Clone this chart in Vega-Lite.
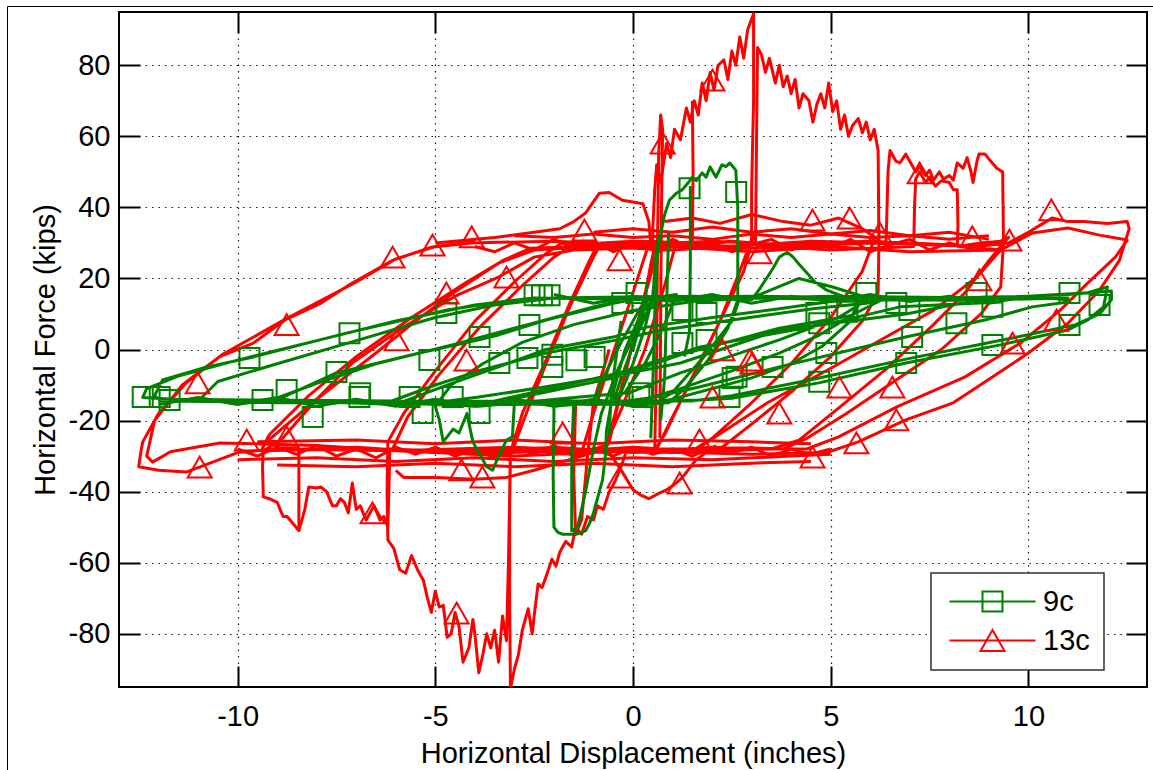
{
  "$schema": "https://vega.github.io/schema/vega-lite/v6.json",
  "width": 1028,
  "height": 675,
  "autosize": {"type": "none"},
  "padding": {"left": 119, "top": 12, "right": 6, "bottom": 83},
  "background": "white",
  "config": {
    "font": "Liberation Sans",
    "view": {"stroke": "#000000", "strokeWidth": 2},
    "axis": {"labelFont": "Liberation Sans", "titleFont": "Liberation Sans", "labelColor": "#000000", "titleColor": "#000000", "titleFontWeight": "normal"}
  },
  "datasets": {
    "curves": [
      {"s":"13c","g":1,"i":1,"x":0,"y":0},{"s":"13c","g":1,"i":2,"x":0.25,"y":12},{"s":"13c","g":1,"i":3,"x":0.45,"y":24},{"s":"13c","g":1,"i":4,"x":0.55,"y":29},{"s":"13c","g":1,"i":5,"x":0.35,"y":18},{"s":"13c","g":1,"i":6,"x":0,"y":2},{"s":"13c","g":1,"i":7,"x":-0.35,"y":-14},{"s":"13c","g":1,"i":8,"x":-0.6,"y":-26},{"s":"13c","g":1,"i":9,"x":-0.7,"y":-28},{"s":"13c","g":1,"i":10,"x":-0.45,"y":-18},
      {"s":"13c","g":1,"i":11,"x":-0.1,"y":-2},{"s":"13c","g":1,"i":12,"x":0.3,"y":15},{"s":"13c","g":1,"i":13,"x":0.6,"y":27},{"s":"13c","g":1,"i":14,"x":0.9,"y":30},{"s":"13c","g":1,"i":15,"x":1.1,"y":30.5},{"s":"13c","g":1,"i":16,"x":0.8,"y":18},{"s":"13c","g":1,"i":17,"x":0.3,"y":0},{"s":"13c","g":1,"i":18,"x":-0.3,"y":-17},{"s":"13c","g":1,"i":19,"x":-0.7,"y":-27},{"s":"13c","g":1,"i":20,"x":-1.1,"y":-28.5},
      {"s":"13c","g":1,"i":21,"x":-1.3,"y":-29},{"s":"13c","g":1,"i":22,"x":-1,"y":-18},{"s":"13c","g":1,"i":23,"x":-0.5,"y":-1},{"s":"13c","g":1,"i":24,"x":0,"y":16},{"s":"13c","g":1,"i":25,"x":0.35,"y":28},{"s":"13c","g":1,"i":26,"x":0.5,"y":31},{"s":"13c","g":1,"i":27,"x":0.5,"y":34},{"s":"13c","g":1,"i":28,"x":0.55,"y":45},{"s":"13c","g":1,"i":29,"x":0.6,"y":52},{"s":"13c","g":1,"i":30,"x":0.7,"y":47},
      {"s":"13c","g":1,"i":31,"x":0.85,"y":58},{"s":"13c","g":1,"i":32,"x":0.95,"y":54},{"s":"13c","g":1,"i":33,"x":1.05,"y":62},{"s":"13c","g":1,"i":34,"x":1.2,"y":59},{"s":"13c","g":1,"i":35,"x":1.35,"y":68},{"s":"13c","g":1,"i":36,"x":1.45,"y":64},{"s":"13c","g":1,"i":37,"x":1.55,"y":70},{"s":"13c","g":1,"i":38,"x":1.65,"y":66},{"s":"13c","g":1,"i":39,"x":1.75,"y":75},{"s":"13c","g":1,"i":40,"x":1.85,"y":70},
      {"s":"13c","g":1,"i":41,"x":1.95,"y":78},{"s":"13c","g":1,"i":42,"x":2.05,"y":73},{"s":"13c","g":1,"i":43,"x":2.15,"y":80},{"s":"13c","g":1,"i":44,"x":2.3,"y":81.5},{"s":"13c","g":1,"i":45,"x":2.4,"y":76},{"s":"13c","g":1,"i":46,"x":2.5,"y":84},{"s":"13c","g":1,"i":47,"x":2.6,"y":80},{"s":"13c","g":1,"i":48,"x":2.7,"y":88},{"s":"13c","g":1,"i":49,"x":2.8,"y":82},{"s":"13c","g":1,"i":50,"x":2.9,"y":90},
      {"s":"13c","g":1,"i":51,"x":3.05,"y":94.5},{"s":"13c","g":1,"i":52,"x":3.05,"y":70},{"s":"13c","g":1,"i":53,"x":3,"y":45},{"s":"13c","g":1,"i":54,"x":3,"y":31},{"s":"13c","g":1,"i":55,"x":2.7,"y":22},{"s":"13c","g":1,"i":56,"x":2.2,"y":8},{"s":"13c","g":1,"i":57,"x":1.6,"y":-6},{"s":"13c","g":1,"i":58,"x":1,"y":-19},{"s":"13c","g":1,"i":59,"x":0.6,"y":-28},{"s":"13c","g":1,"i":60,"x":0.2,"y":-28.5},
      {"s":"13c","g":1,"i":61,"x":-0.15,"y":-28},{"s":"13c","g":1,"i":62,"x":-0.3,"y":-33},{"s":"13c","g":1,"i":63,"x":-0.45,"y":-37},{"s":"13c","g":1,"i":64,"x":-0.6,"y":-40},{"s":"13c","g":1,"i":65,"x":-0.75,"y":-45},{"s":"13c","g":1,"i":66,"x":-0.9,"y":-44},{"s":"13c","g":1,"i":67,"x":-1,"y":-48},{"s":"13c","g":1,"i":68,"x":-1.15,"y":-47},{"s":"13c","g":1,"i":69,"x":-1.3,"y":-52},{"s":"13c","g":1,"i":70,"x":-1.45,"y":-50},
      {"s":"13c","g":1,"i":71,"x":-1.55,"y":-55.6},{"s":"13c","g":1,"i":72,"x":-1.7,"y":-54},{"s":"13c","g":1,"i":73,"x":-1.85,"y":-57},{"s":"13c","g":1,"i":74,"x":-1.95,"y":-61},{"s":"13c","g":1,"i":75,"x":-2.05,"y":-59},{"s":"13c","g":1,"i":76,"x":-2.2,"y":-64},{"s":"13c","g":1,"i":77,"x":-2.3,"y":-67},{"s":"13c","g":1,"i":78,"x":-2.4,"y":-66},{"s":"13c","g":1,"i":79,"x":-2.5,"y":-75},{"s":"13c","g":1,"i":80,"x":-2.55,"y":-80},
      {"s":"13c","g":1,"i":81,"x":-2.65,"y":-73},{"s":"13c","g":1,"i":82,"x":-2.8,"y":-79},{"s":"13c","g":1,"i":83,"x":-2.9,"y":-86},{"s":"13c","g":1,"i":84,"x":-3,"y":-90},{"s":"13c","g":1,"i":85,"x":-3.1,"y":-95.5},{"s":"13c","g":1,"i":86,"x":-3.12,"y":-70},{"s":"13c","g":1,"i":87,"x":-3.12,"y":-45},{"s":"13c","g":1,"i":88,"x":-3.1,"y":-30},{"s":"13c","g":1,"i":89,"x":-2.7,"y":-18},{"s":"13c","g":1,"i":90,"x":-2.2,"y":-4},
      {"s":"13c","g":1,"i":91,"x":-1.6,"y":12},{"s":"13c","g":1,"i":92,"x":-1,"y":26},{"s":"13c","g":1,"i":93,"x":-0.8,"y":30},{"s":"13c","g":1,"i":94,"x":0,"y":30.5},{"s":"13c","g":1,"i":95,"x":1,"y":29.5},{"s":"13c","g":1,"i":96,"x":2,"y":30.5},{"s":"13c","g":1,"i":97,"x":3,"y":30},{"s":"13c","g":1,"i":98,"x":3.05,"y":32},{"s":"13c","g":1,"i":99,"x":2.8,"y":22},{"s":"13c","g":1,"i":100,"x":2.2,"y":8},
      {"s":"13c","g":1,"i":101,"x":1.4,"y":-10},{"s":"13c","g":1,"i":102,"x":0.8,"y":-24},{"s":"13c","g":1,"i":103,"x":0.5,"y":-29},{"s":"13c","g":1,"i":104,"x":-0.5,"y":-28},{"s":"13c","g":1,"i":105,"x":-1.5,"y":-29.5},{"s":"13c","g":1,"i":106,"x":-2.5,"y":-28},{"s":"13c","g":1,"i":107,"x":-3.1,"y":-29},{"s":"13c","g":1,"i":108,"x":-2.8,"y":-18},{"s":"13c","g":1,"i":109,"x":-2.2,"y":-3},{"s":"13c","g":1,"i":110,"x":-1.6,"y":13},
      {"s":"13c","g":1,"i":111,"x":-1.1,"y":25},{"s":"13c","g":1,"i":112,"x":-0.9,"y":29.5},{"s":"13c","g":1,"i":113,"x":0.5,"y":30},{"s":"13c","g":1,"i":114,"x":1.5,"y":29},{"s":"13c","g":1,"i":115,"x":2.5,"y":30.5},{"s":"13c","g":1,"i":116,"x":3.1,"y":30},{"s":"13c","g":1,"i":117,"x":3.12,"y":55},{"s":"13c","g":1,"i":118,"x":3.15,"y":85},{"s":"13c","g":1,"i":119,"x":3.25,"y":83},{"s":"13c","g":1,"i":120,"x":3.35,"y":78},
      {"s":"13c","g":1,"i":121,"x":3.45,"y":82},{"s":"13c","g":1,"i":122,"x":3.6,"y":75},{"s":"13c","g":1,"i":123,"x":3.7,"y":80},{"s":"13c","g":1,"i":124,"x":3.8,"y":74},{"s":"13c","g":1,"i":125,"x":3.9,"y":77},{"s":"13c","g":1,"i":126,"x":4,"y":72},{"s":"13c","g":1,"i":127,"x":4.1,"y":76},{"s":"13c","g":1,"i":128,"x":4.2,"y":68},{"s":"13c","g":1,"i":129,"x":4.3,"y":72},{"s":"13c","g":1,"i":130,"x":4.45,"y":70},
      {"s":"13c","g":1,"i":131,"x":4.55,"y":64},{"s":"13c","g":1,"i":132,"x":4.65,"y":69},{"s":"13c","g":1,"i":133,"x":4.75,"y":72},{"s":"13c","g":1,"i":134,"x":4.85,"y":68},{"s":"13c","g":1,"i":135,"x":4.95,"y":75},{"s":"13c","g":1,"i":136,"x":5.05,"y":67},{"s":"13c","g":1,"i":137,"x":5.15,"y":70},{"s":"13c","g":1,"i":138,"x":5.25,"y":62},{"s":"13c","g":1,"i":139,"x":5.35,"y":66},{"s":"13c","g":1,"i":140,"x":5.45,"y":60},
      {"s":"13c","g":1,"i":141,"x":5.55,"y":63},{"s":"13c","g":1,"i":142,"x":5.7,"y":65},{"s":"13c","g":1,"i":143,"x":5.8,"y":61},{"s":"13c","g":1,"i":144,"x":5.9,"y":64},{"s":"13c","g":1,"i":145,"x":6,"y":59},{"s":"13c","g":1,"i":146,"x":6.1,"y":62},{"s":"13c","g":1,"i":147,"x":6.2,"y":56},{"s":"13c","g":1,"i":148,"x":6.22,"y":30},{"s":"13c","g":1,"i":149,"x":6.2,"y":16},{"s":"13c","g":1,"i":150,"x":5.8,"y":8},
      {"s":"13c","g":1,"i":151,"x":5,"y":-2},{"s":"13c","g":1,"i":152,"x":4,"y":-12},{"s":"13c","g":1,"i":153,"x":3,"y":-21},{"s":"13c","g":1,"i":154,"x":2.2,"y":-28},{"s":"13c","g":1,"i":155,"x":0.5,"y":-28},{"s":"13c","g":1,"i":156,"x":-1,"y":-29},{"s":"13c","g":1,"i":157,"x":-2,"y":-27.5},{"s":"13c","g":1,"i":158,"x":-3.1,"y":-28.5},{"s":"13c","g":1,"i":159,"x":-3.15,"y":-60},{"s":"13c","g":1,"i":160,"x":-3.2,"y":-82},
      {"s":"13c","g":1,"i":161,"x":-3.3,"y":-75},{"s":"13c","g":1,"i":162,"x":-3.4,"y":-88},{"s":"13c","g":1,"i":163,"x":-3.5,"y":-79},{"s":"13c","g":1,"i":164,"x":-3.6,"y":-84},{"s":"13c","g":1,"i":165,"x":-3.7,"y":-80},{"s":"13c","g":1,"i":166,"x":-3.8,"y":-86},{"s":"13c","g":1,"i":167,"x":-3.9,"y":-91},{"s":"13c","g":1,"i":168,"x":-4,"y":-80},{"s":"13c","g":1,"i":169,"x":-4.05,"y":-76},{"s":"13c","g":1,"i":170,"x":-4.15,"y":-84},
      {"s":"13c","g":1,"i":171,"x":-4.3,"y":-88},{"s":"13c","g":1,"i":172,"x":-4.4,"y":-78},{"s":"13c","g":1,"i":173,"x":-4.5,"y":-74},{"s":"13c","g":1,"i":174,"x":-4.6,"y":-80},{"s":"13c","g":1,"i":175,"x":-4.7,"y":-81},{"s":"13c","g":1,"i":176,"x":-4.8,"y":-72},{"s":"13c","g":1,"i":177,"x":-4.9,"y":-72.5},{"s":"13c","g":1,"i":178,"x":-5,"y":-68},{"s":"13c","g":1,"i":179,"x":-5.1,"y":-74},{"s":"13c","g":1,"i":180,"x":-5.2,"y":-70},
      {"s":"13c","g":1,"i":181,"x":-5.3,"y":-65},{"s":"13c","g":1,"i":182,"x":-5.45,"y":-62},{"s":"13c","g":1,"i":183,"x":-5.6,"y":-58},{"s":"13c","g":1,"i":184,"x":-5.75,"y":-63},{"s":"13c","g":1,"i":185,"x":-5.9,"y":-62},{"s":"13c","g":1,"i":186,"x":-6.05,"y":-56},{"s":"13c","g":1,"i":187,"x":-6.2,"y":-53.6},{"s":"13c","g":1,"i":188,"x":-6.22,"y":-40},{"s":"13c","g":1,"i":189,"x":-6.2,"y":-26},{"s":"13c","g":1,"i":190,"x":-5.8,"y":-18},
      {"s":"13c","g":1,"i":191,"x":-5,"y":-6},{"s":"13c","g":1,"i":192,"x":-4,"y":8},{"s":"13c","g":1,"i":193,"x":-3,"y":19},{"s":"13c","g":1,"i":194,"x":-2.2,"y":27},{"s":"13c","g":1,"i":195,"x":-1.8,"y":30},{"s":"13c","g":1,"i":196,"x":0,"y":29},{"s":"13c","g":1,"i":197,"x":2,"y":30.5},{"s":"13c","g":1,"i":198,"x":4,"y":29.5},{"s":"13c","g":1,"i":199,"x":6,"y":30},{"s":"13c","g":1,"i":200,"x":6.1,"y":31},
      {"s":"13c","g":1,"i":201,"x":5.8,"y":22},{"s":"13c","g":1,"i":202,"x":5,"y":9},{"s":"13c","g":1,"i":203,"x":4,"y":-4},{"s":"13c","g":1,"i":204,"x":3,"y":-15},{"s":"13c","g":1,"i":205,"x":2,"y":-25},{"s":"13c","g":1,"i":206,"x":1.5,"y":-28.5},{"s":"13c","g":1,"i":207,"x":0,"y":-27.5},{"s":"13c","g":1,"i":208,"x":-2,"y":-29},{"s":"13c","g":1,"i":209,"x":-4,"y":-28},{"s":"13c","g":1,"i":210,"x":-6.1,"y":-28.5},
      {"s":"13c","g":1,"i":211,"x":-5.7,"y":-19},{"s":"13c","g":1,"i":212,"x":-4.9,"y":-7},{"s":"13c","g":1,"i":213,"x":-3.9,"y":6},{"s":"13c","g":1,"i":214,"x":-2.8,"y":18},{"s":"13c","g":1,"i":215,"x":-2,"y":26},{"s":"13c","g":1,"i":216,"x":-1.5,"y":29.5},{"s":"13c","g":1,"i":217,"x":0.5,"y":30.5},{"s":"13c","g":1,"i":218,"x":2.5,"y":29},{"s":"13c","g":1,"i":219,"x":4.5,"y":30.5},{"s":"13c","g":1,"i":220,"x":6.4,"y":30},
      {"s":"13c","g":1,"i":221,"x":6.45,"y":50},{"s":"13c","g":1,"i":222,"x":6.5,"y":56},{"s":"13c","g":1,"i":223,"x":6.65,"y":53},{"s":"13c","g":1,"i":224,"x":6.75,"y":52.5},{"s":"13c","g":1,"i":225,"x":6.9,"y":55},{"s":"13c","g":1,"i":226,"x":7,"y":53},{"s":"13c","g":1,"i":227,"x":7.15,"y":50},{"s":"13c","g":1,"i":228,"x":7.25,"y":51.5},{"s":"13c","g":1,"i":229,"x":7.4,"y":49},{"s":"13c","g":1,"i":230,"x":7.5,"y":50.5},
      {"s":"13c","g":1,"i":231,"x":7.6,"y":47.7},{"s":"13c","g":1,"i":232,"x":7.75,"y":50},{"s":"13c","g":1,"i":233,"x":7.85,"y":48},{"s":"13c","g":1,"i":234,"x":8,"y":49},{"s":"13c","g":1,"i":235,"x":8.1,"y":47.7},{"s":"13c","g":1,"i":236,"x":8.2,"y":52.5},{"s":"13c","g":1,"i":237,"x":8.35,"y":51},{"s":"13c","g":1,"i":238,"x":8.45,"y":54},{"s":"13c","g":1,"i":239,"x":8.55,"y":50},{"s":"13c","g":1,"i":240,"x":8.6,"y":47},
      {"s":"13c","g":1,"i":241,"x":8.7,"y":53},{"s":"13c","g":1,"i":242,"x":8.75,"y":55},{"s":"13c","g":1,"i":243,"x":8.9,"y":55},{"s":"13c","g":1,"i":244,"x":9.05,"y":53},{"s":"13c","g":1,"i":245,"x":9.2,"y":51},{"s":"13c","g":1,"i":246,"x":9.35,"y":50},{"s":"13c","g":1,"i":247,"x":9.37,"y":30},{"s":"13c","g":1,"i":248,"x":9.3,"y":17.6},{"s":"13c","g":1,"i":249,"x":8.8,"y":10},{"s":"13c","g":1,"i":250,"x":7.8,"y":0},
      {"s":"13c","g":1,"i":251,"x":6.6,"y":-9},{"s":"13c","g":1,"i":252,"x":5.4,"y":-18},{"s":"13c","g":1,"i":253,"x":4.4,"y":-25},{"s":"13c","g":1,"i":254,"x":3.8,"y":-28},{"s":"13c","g":1,"i":255,"x":2,"y":-28},{"s":"13c","g":1,"i":256,"x":0,"y":-29},{"s":"13c","g":1,"i":257,"x":-2,"y":-27.5},{"s":"13c","g":1,"i":258,"x":-4,"y":-29},{"s":"13c","g":1,"i":259,"x":-6.15,"y":-28},{"s":"13c","g":1,"i":260,"x":-6.17,"y":-38},
      {"s":"13c","g":1,"i":261,"x":-6.2,"y":-50},{"s":"13c","g":1,"i":262,"x":-6.3,"y":-47},{"s":"13c","g":1,"i":263,"x":-6.4,"y":-48},{"s":"13c","g":1,"i":264,"x":-6.55,"y":-44},{"s":"13c","g":1,"i":265,"x":-6.6,"y":-45},{"s":"13c","g":1,"i":266,"x":-6.75,"y":-48},{"s":"13c","g":1,"i":267,"x":-6.9,"y":-44},{"s":"13c","g":1,"i":268,"x":-7,"y":-45},{"s":"13c","g":1,"i":269,"x":-7.1,"y":-37.6},{"s":"13c","g":1,"i":270,"x":-7.2,"y":-46},
      {"s":"13c","g":1,"i":271,"x":-7.3,"y":-43},{"s":"13c","g":1,"i":272,"x":-7.4,"y":-42},{"s":"13c","g":1,"i":273,"x":-7.5,"y":-44},{"s":"13c","g":1,"i":274,"x":-7.6,"y":-44},{"s":"13c","g":1,"i":275,"x":-7.75,"y":-40},{"s":"13c","g":1,"i":276,"x":-7.9,"y":-38.7},{"s":"13c","g":1,"i":277,"x":-8,"y":-39},{"s":"13c","g":1,"i":278,"x":-8.2,"y":-38.7},{"s":"13c","g":1,"i":279,"x":-8.3,"y":-45},{"s":"13c","g":1,"i":280,"x":-8.45,"y":-51},
      {"s":"13c","g":1,"i":281,"x":-8.6,"y":-49},{"s":"13c","g":1,"i":282,"x":-8.75,"y":-47},{"s":"13c","g":1,"i":283,"x":-8.85,"y":-47},{"s":"13c","g":1,"i":284,"x":-9,"y":-43},{"s":"13c","g":1,"i":285,"x":-9.2,"y":-42},{"s":"13c","g":1,"i":286,"x":-9.35,"y":-41.5},{"s":"13c","g":1,"i":287,"x":-9.37,"y":-33},{"s":"13c","g":1,"i":288,"x":-9.35,"y":-27},{"s":"13c","g":1,"i":289,"x":-9.3,"y":-26.3},{"s":"13c","g":1,"i":290,"x":-8,"y":-14},
      {"s":"13c","g":1,"i":291,"x":-6.5,"y":-1},{"s":"13c","g":1,"i":292,"x":-5.5,"y":8},{"s":"13c","g":1,"i":293,"x":-4.55,"y":15.9},{"s":"13c","g":1,"i":294,"x":-3.4,"y":24.3},{"s":"13c","g":1,"i":295,"x":-2.5,"y":28},{"s":"13c","g":1,"i":296,"x":-1,"y":29},{"s":"13c","g":1,"i":297,"x":1,"y":28},{"s":"13c","g":1,"i":298,"x":3,"y":29.5},{"s":"13c","g":1,"i":299,"x":5,"y":28},{"s":"13c","g":1,"i":300,"x":7.1,"y":29},
      {"s":"13c","g":1,"i":301,"x":7.12,"y":40},{"s":"13c","g":1,"i":302,"x":7.15,"y":48},{"s":"13c","g":1,"i":303,"x":7.25,"y":50},{"s":"13c","g":1,"i":304,"x":7.4,"y":47},{"s":"13c","g":1,"i":305,"x":7.5,"y":48.5},{"s":"13c","g":1,"i":306,"x":7.65,"y":46},{"s":"13c","g":1,"i":307,"x":7.8,"y":47.5},{"s":"13c","g":1,"i":308,"x":8,"y":47},{"s":"13c","g":1,"i":309,"x":8.1,"y":45},{"s":"13c","g":1,"i":310,"x":8.2,"y":45},
      {"s":"13c","g":1,"i":311,"x":8.22,"y":35},{"s":"13c","g":1,"i":312,"x":8.2,"y":29},{"s":"13c","g":1,"i":313,"x":8.8,"y":30},{"s":"13c","g":1,"i":314,"x":9.3,"y":30.5},{"s":"13c","g":1,"i":315,"x":9.5,"y":31.6},{"s":"13c","g":1,"i":316,"x":9,"y":25},{"s":"13c","g":1,"i":317,"x":8.4,"y":16},{"s":"13c","g":1,"i":318,"x":7.6,"y":7},{"s":"13c","g":1,"i":319,"x":6.4,"y":-5.5},{"s":"13c","g":1,"i":320,"x":5.2,"y":-16.5},
      {"s":"13c","g":1,"i":321,"x":4.2,"y":-25.5},{"s":"13c","g":1,"i":322,"x":3.5,"y":-28},{"s":"13c","g":1,"i":323,"x":1,"y":-29},{"s":"13c","g":1,"i":324,"x":-2,"y":-28},{"s":"13c","g":1,"i":325,"x":-5,"y":-29},{"s":"13c","g":1,"i":326,"x":-7,"y":-27.5},{"s":"13c","g":1,"i":327,"x":-9.35,"y":-28.5},{"s":"13c","g":1,"i":328,"x":-8.9,"y":-25.5},{"s":"13c","g":1,"i":329,"x":-8,"y":-14},{"s":"13c","g":1,"i":330,"x":-7.1,"y":-3.8},
      {"s":"13c","g":1,"i":331,"x":-5.8,"y":6.3},{"s":"13c","g":1,"i":332,"x":-4.5,"y":15},{"s":"13c","g":1,"i":333,"x":-3.4,"y":20.4},{"s":"13c","g":1,"i":334,"x":-2.5,"y":26},{"s":"13c","g":1,"i":335,"x":-1.5,"y":28},{"s":"13c","g":1,"i":336,"x":1,"y":29},{"s":"13c","g":1,"i":337,"x":3,"y":27.5},{"s":"13c","g":1,"i":338,"x":5,"y":29},{"s":"13c","g":1,"i":339,"x":7,"y":27.5},{"s":"13c","g":1,"i":340,"x":9.3,"y":28},
      {"s":"13c","g":1,"i":341,"x":8.7,"y":20.4},{"s":"13c","g":1,"i":342,"x":7.6,"y":11},{"s":"13c","g":1,"i":343,"x":6.4,"y":3.5},{"s":"13c","g":1,"i":344,"x":5.05,"y":-5},{"s":"13c","g":1,"i":345,"x":3.4,"y":-15},{"s":"13c","g":1,"i":346,"x":1.7,"y":-27.4},{"s":"13c","g":1,"i":347,"x":1.3,"y":-29},{"s":"13c","g":1,"i":348,"x":-1,"y":-28},{"s":"13c","g":1,"i":349,"x":-4,"y":-29.5},{"s":"13c","g":1,"i":350,"x":-7,"y":-28},
      {"s":"13c","g":1,"i":351,"x":-9.4,"y":-28.5},{"s":"13c","g":1,"i":352,"x":-9.2,"y":-24},{"s":"13c","g":1,"i":353,"x":-8.2,"y":-13},{"s":"13c","g":1,"i":354,"x":-7,"y":-2},{"s":"13c","g":1,"i":355,"x":-5.6,"y":9},{"s":"13c","g":1,"i":356,"x":-4.2,"y":19},{"s":"13c","g":1,"i":357,"x":-3.3,"y":25},{"s":"13c","g":1,"i":358,"x":-2.6,"y":28.5},{"s":"13c","g":1,"i":359,"x":0,"y":29.5},{"s":"13c","g":1,"i":360,"x":3,"y":28.5},
      {"s":"13c","g":1,"i":361,"x":6,"y":30},{"s":"13c","g":1,"i":362,"x":8.7,"y":29},{"s":"13c","g":1,"i":363,"x":9.5,"y":30},{"s":"13c","g":1,"i":364,"x":10,"y":33},{"s":"13c","g":1,"i":365,"x":10.3,"y":35},{"s":"13c","g":1,"i":366,"x":10.6,"y":37},{"s":"13c","g":1,"i":367,"x":11,"y":36},{"s":"13c","g":1,"i":368,"x":11.4,"y":36},{"s":"13c","g":1,"i":369,"x":12,"y":35.5},{"s":"13c","g":1,"i":370,"x":12.5,"y":36},
      {"s":"13c","g":1,"i":371,"x":12.55,"y":34},{"s":"13c","g":1,"i":372,"x":12.3,"y":25},{"s":"13c","g":1,"i":373,"x":11.8,"y":16.7},{"s":"13c","g":1,"i":374,"x":11,"y":7.4},{"s":"13c","g":1,"i":375,"x":10,"y":-1},{"s":"13c","g":1,"i":376,"x":9.1,"y":-7.7},{"s":"13c","g":1,"i":377,"x":8.1,"y":-15},{"s":"13c","g":1,"i":378,"x":6.9,"y":-19.8},{"s":"13c","g":1,"i":379,"x":5.7,"y":-26},{"s":"13c","g":1,"i":380,"x":4.9,"y":-29},
      {"s":"13c","g":1,"i":381,"x":3,"y":-29.5},{"s":"13c","g":1,"i":382,"x":0,"y":-28.5},{"s":"13c","g":1,"i":383,"x":-3,"y":-30},{"s":"13c","g":1,"i":384,"x":-6,"y":-28.5},{"s":"13c","g":1,"i":385,"x":-9,"y":-28},{"s":"13c","g":1,"i":386,"x":-10,"y":-29},{"s":"13c","g":1,"i":387,"x":-10.7,"y":-32},{"s":"13c","g":1,"i":388,"x":-11.3,"y":-34.5},{"s":"13c","g":1,"i":389,"x":-12,"y":-34},{"s":"13c","g":1,"i":390,"x":-12.5,"y":-33},
      {"s":"13c","g":1,"i":391,"x":-12.45,"y":-29},{"s":"13c","g":1,"i":392,"x":-12.4,"y":-26},{"s":"13c","g":1,"i":393,"x":-12,"y":-18},{"s":"13c","g":1,"i":394,"x":-11.3,"y":-9.4},{"s":"13c","g":1,"i":395,"x":-10.45,"y":-2},{"s":"13c","g":1,"i":396,"x":-9.6,"y":1.8},{"s":"13c","g":1,"i":397,"x":-8.8,"y":8.3},{"s":"13c","g":1,"i":398,"x":-7.9,"y":13},{"s":"13c","g":1,"i":399,"x":-7.1,"y":18.7},{"s":"13c","g":1,"i":400,"x":-6.1,"y":25},
      {"s":"13c","g":1,"i":401,"x":-5.1,"y":28.8},{"s":"13c","g":1,"i":402,"x":-4.1,"y":30},{"s":"13c","g":1,"i":403,"x":-2,"y":30.5},{"s":"13c","g":1,"i":404,"x":0,"y":29.5},{"s":"13c","g":1,"i":405,"x":2,"y":30.5},{"s":"13c","g":1,"i":406,"x":4,"y":29.5},{"s":"13c","g":1,"i":407,"x":6,"y":30.5},{"s":"13c","g":1,"i":408,"x":8,"y":29.5},{"s":"13c","g":1,"i":409,"x":9.3,"y":28},{"s":"13c","g":1,"i":410,"x":10.1,"y":32.8},
      {"s":"13c","g":1,"i":411,"x":11,"y":34.2},{"s":"13c","g":1,"i":412,"x":11.8,"y":32.2},{"s":"13c","g":1,"i":413,"x":12.5,"y":30.8},{"s":"13c","g":1,"i":414,"x":12.2,"y":26},{"s":"13c","g":1,"i":415,"x":11.5,"y":18.7},{"s":"13c","g":1,"i":416,"x":10.8,"y":11},{"s":"13c","g":1,"i":417,"x":9.8,"y":1.8},{"s":"13c","g":1,"i":418,"x":8.4,"y":-7.7},{"s":"13c","g":1,"i":419,"x":6.7,"y":-16},{"s":"13c","g":1,"i":420,"x":5.2,"y":-24.6},
      {"s":"13c","g":1,"i":421,"x":4.4,"y":-28},{"s":"13c","g":1,"i":422,"x":2,"y":-27.5},{"s":"13c","g":1,"i":423,"x":0,"y":-29},{"s":"13c","g":1,"i":424,"x":-3,"y":-27.5},{"s":"13c","g":1,"i":425,"x":-6,"y":-28.5},{"s":"13c","g":1,"i":426,"x":-8,"y":-27},{"s":"13c","g":1,"i":427,"x":-10.45,"y":-26.3},{"s":"13c","g":1,"i":428,"x":-11.7,"y":-28.8},{"s":"13c","g":1,"i":429,"x":-12.15,"y":-31.7},{"s":"13c","g":1,"i":430,"x":-12.3,"y":-30},
      {"s":"13c","g":1,"i":431,"x":-12.1,"y":-20},{"s":"13c","g":1,"i":432,"x":-11.4,"y":-10},{"s":"13c","g":1,"i":433,"x":-10.4,"y":-1.5},{"s":"13c","g":1,"i":434,"x":-8.8,"y":8.5},{"s":"13c","g":1,"i":435,"x":-7,"y":19},{"s":"13c","g":1,"i":436,"x":-6,"y":25.5},{"s":"13c","g":1,"i":437,"x":-5,"y":29},{"s":"13c","g":1,"i":438,"x":-4,"y":30.5},

      {"s":"13c","g":2,"i":1,"x":-5,"y":30},{"s":"13c","g":2,"i":2,"x":-3.5,"y":31.5},{"s":"13c","g":2,"i":3,"x":-2.5,"y":33},{"s":"13c","g":2,"i":4,"x":-1.85,"y":34},{"s":"13c","g":2,"i":5,"x":-1.5,"y":36},{"s":"13c","g":2,"i":6,"x":-1.2,"y":38.4},{"s":"13c","g":2,"i":7,"x":-0.85,"y":44},{"s":"13c","g":2,"i":8,"x":-0.6,"y":44.2},{"s":"13c","g":2,"i":9,"x":-0.27,"y":42},{"s":"13c","g":2,"i":10,"x":0,"y":41.5},{"s":"13c","g":2,"i":11,"x":0.25,"y":41},{"s":"13c","g":2,"i":12,"x":0.4,"y":36},{"s":"13c","g":2,"i":13,"x":0.45,"y":30},
      {"s":"13c","g":3,"i":1,"x":-0.6,"y":-29},{"s":"13c","g":3,"i":2,"x":-0.3,"y":-34},{"s":"13c","g":3,"i":3,"x":0,"y":-39.5},{"s":"13c","g":3,"i":4,"x":0.2,"y":-41},{"s":"13c","g":3,"i":5,"x":0.4,"y":-42},{"s":"13c","g":3,"i":6,"x":0.65,"y":-40.5},{"s":"13c","g":3,"i":7,"x":0.85,"y":-39.5},{"s":"13c","g":3,"i":8,"x":1.05,"y":-38},{"s":"13c","g":3,"i":9,"x":1.25,"y":-36},{"s":"13c","g":3,"i":10,"x":1.6,"y":-31},{"s":"13c","g":3,"i":11,"x":2.1,"y":-27},
      {"s":"13c","g":4,"i":1,"x":-6,"y":-34},{"s":"13c","g":4,"i":2,"x":-5.8,"y":-36},{"s":"13c","g":4,"i":3,"x":-5,"y":-36},{"s":"13c","g":4,"i":4,"x":-4,"y":-36.5},{"s":"13c","g":4,"i":5,"x":-3.2,"y":-36},{"s":"13c","g":4,"i":6,"x":-2.5,"y":-34},{"s":"13c","g":4,"i":7,"x":-1.6,"y":-31},{"s":"13c","g":4,"i":8,"x":-1,"y":-29},
      {"s":"13c","g":5,"i":1,"x":-1.45,"y":-15},{"s":"13c","g":5,"i":2,"x":-1.5,"y":-35},{"s":"13c","g":5,"i":3,"x":-1.45,"y":-52},{"s":"13c","g":5,"i":4,"x":-1.3,"y":-48},{"s":"13c","g":5,"i":5,"x":-1.15,"y":-30},{"s":"13c","g":5,"i":6,"x":-1,"y":-15},{"s":"13c","g":5,"i":7,"x":-0.6,"y":0},
      {"s":"13c","g":6,"i":1,"x":0.55,"y":-28},{"s":"13c","g":6,"i":2,"x":0.6,"y":0},{"s":"13c","g":6,"i":3,"x":0.62,"y":30},{"s":"13c","g":6,"i":4,"x":0.65,"y":55},{"s":"13c","g":6,"i":5,"x":0.7,"y":66},{"s":"13c","g":6,"i":6,"x":0.75,"y":62},{"s":"13c","g":6,"i":7,"x":0.72,"y":40},{"s":"13c","g":6,"i":8,"x":0.7,"y":10},{"s":"13c","g":6,"i":9,"x":0.68,"y":-25},
      {"s":"13c","g":7,"i":1,"x":1.5,"y":70},{"s":"13c","g":7,"i":2,"x":1.52,"y":50},{"s":"13c","g":7,"i":3,"x":1.5,"y":30},
      {"s":"13c","g":8,"i":1,"x":-8.45,"y":-28},{"s":"13c","g":8,"i":2,"x":-8.45,"y":-51},
      {"s":"13c","g":9,"i":1,"x":0.8,"y":36},{"s":"13c","g":9,"i":2,"x":1.5,"y":37},{"s":"13c","g":9,"i":3,"x":2.2,"y":35.5},{"s":"13c","g":9,"i":4,"x":3,"y":38},{"s":"13c","g":9,"i":5,"x":3.8,"y":36},{"s":"13c","g":9,"i":6,"x":4.5,"y":35},{"s":"13c","g":9,"i":7,"x":5.2,"y":37},{"s":"13c","g":9,"i":8,"x":5.8,"y":34},{"s":"13c","g":9,"i":9,"x":6.2,"y":31},
      {"s":"13c","g":10,"i":1,"x":-1,"y":33},{"s":"13c","g":10,"i":2,"x":0,"y":34},{"s":"13c","g":10,"i":3,"x":1,"y":33},{"s":"13c","g":10,"i":4,"x":2,"y":34.5},{"s":"13c","g":10,"i":5,"x":3,"y":33},{"s":"13c","g":10,"i":6,"x":4,"y":34},{"s":"13c","g":10,"i":7,"x":5,"y":32.5},{"s":"13c","g":10,"i":8,"x":6,"y":33.5},{"s":"13c","g":10,"i":9,"x":7,"y":32},{"s":"13c","g":10,"i":10,"x":8,"y":33},{"s":"13c","g":10,"i":11,"x":9,"y":31},
      {"s":"13c","g":11,"i":1,"x":-10,"y":-31},{"s":"13c","g":11,"i":2,"x":-8,"y":-30.5},{"s":"13c","g":11,"i":3,"x":-6,"y":-31.5},{"s":"13c","g":11,"i":4,"x":-4,"y":-30.5},{"s":"13c","g":11,"i":5,"x":-2,"y":-31.5},{"s":"13c","g":11,"i":6,"x":0,"y":-30.5},{"s":"13c","g":11,"i":7,"x":2,"y":-31},{"s":"13c","g":11,"i":8,"x":4,"y":-30},{"s":"13c","g":11,"i":9,"x":5,"y":-29.5},
      {"s":"13c","g":12,"i":1,"x":-9.5,"y":-26},{"s":"13c","g":12,"i":2,"x":-7,"y":-25.5},{"s":"13c","g":12,"i":3,"x":-5,"y":-26.5},{"s":"13c","g":12,"i":4,"x":-3,"y":-25.5},{"s":"13c","g":12,"i":5,"x":-1,"y":-26.5},{"s":"13c","g":12,"i":6,"x":1,"y":-25.5},{"s":"13c","g":12,"i":7,"x":3,"y":-26},{"s":"13c","g":12,"i":8,"x":4.5,"y":-26.5},
      {"s":"13c","g":13,"i":1,"x":-4,"y":29},{"s":"13c","g":13,"i":2,"x":-3.5,"y":27.5},{"s":"13c","g":13,"i":3,"x":-3,"y":30},{"s":"13c","g":13,"i":4,"x":-2.5,"y":28},{"s":"13c","g":13,"i":5,"x":-2,"y":31},{"s":"13c","g":13,"i":6,"x":-1.5,"y":28.5},{"s":"13c","g":13,"i":7,"x":-1,"y":30.5},{"s":"13c","g":13,"i":8,"x":-0.5,"y":27.5},{"s":"13c","g":13,"i":9,"x":0,"y":30},{"s":"13c","g":13,"i":10,"x":0.5,"y":28},
      {"s":"13c","g":13,"i":11,"x":1,"y":31},{"s":"13c","g":13,"i":12,"x":1.5,"y":28.5},{"s":"13c","g":13,"i":13,"x":2,"y":30},{"s":"13c","g":13,"i":14,"x":2.5,"y":27.5},{"s":"13c","g":13,"i":15,"x":3,"y":29.5},{"s":"13c","g":13,"i":16,"x":3.5,"y":31},{"s":"13c","g":13,"i":17,"x":4,"y":28},{"s":"13c","g":13,"i":18,"x":4.5,"y":30.5},{"s":"13c","g":13,"i":19,"x":5,"y":28.5},{"s":"13c","g":13,"i":20,"x":5.5,"y":31},
      {"s":"13c","g":13,"i":21,"x":6,"y":27.5},{"s":"13c","g":13,"i":22,"x":6.5,"y":29.5},{"s":"13c","g":13,"i":23,"x":7,"y":31},{"s":"13c","g":13,"i":24,"x":7.5,"y":28},{"s":"13c","g":13,"i":25,"x":8,"y":30},{"s":"13c","g":13,"i":26,"x":8.5,"y":28.5},{"s":"13c","g":13,"i":27,"x":9,"y":30},
      {"s":"13c","g":14,"i":1,"x":-3,"y":32},{"s":"13c","g":14,"i":2,"x":-2,"y":31.5},{"s":"13c","g":14,"i":3,"x":-1,"y":32.5},{"s":"13c","g":14,"i":4,"x":0,"y":31.5},{"s":"13c","g":14,"i":5,"x":1,"y":32},{"s":"13c","g":14,"i":6,"x":2,"y":31},{"s":"13c","g":14,"i":7,"x":3,"y":32.5},{"s":"13c","g":14,"i":8,"x":4,"y":31.5},{"s":"13c","g":14,"i":9,"x":5,"y":32.5},{"s":"13c","g":14,"i":10,"x":6,"y":31.5},{"s":"13c","g":14,"i":11,"x":7,"y":32},{"s":"13c","g":14,"i":12,"x":8,"y":31},{"s":"13c","g":14,"i":13,"x":9,"y":32},
      {"s":"13c","g":15,"i":1,"x":-10,"y":-28},{"s":"13c","g":15,"i":2,"x":-9.5,"y":-30},{"s":"13c","g":15,"i":3,"x":-9,"y":-27.5},{"s":"13c","g":15,"i":4,"x":-8.5,"y":-29.5},{"s":"13c","g":15,"i":5,"x":-8,"y":-27},{"s":"13c","g":15,"i":6,"x":-7.5,"y":-30},{"s":"13c","g":15,"i":7,"x":-7,"y":-28},{"s":"13c","g":15,"i":8,"x":-6.5,"y":-30.5},{"s":"13c","g":15,"i":9,"x":-6,"y":-27.5},{"s":"13c","g":15,"i":10,"x":-5.5,"y":-29.5},
      {"s":"13c","g":15,"i":11,"x":-5,"y":-27.5},{"s":"13c","g":15,"i":12,"x":-4.5,"y":-30},{"s":"13c","g":15,"i":13,"x":-4,"y":-28},{"s":"13c","g":15,"i":14,"x":-3.5,"y":-30.5},{"s":"13c","g":15,"i":15,"x":-3,"y":-27.5},{"s":"13c","g":15,"i":16,"x":-2.5,"y":-29.5},{"s":"13c","g":15,"i":17,"x":-2,"y":-27},{"s":"13c","g":15,"i":18,"x":-1.5,"y":-30},{"s":"13c","g":15,"i":19,"x":-1,"y":-28},{"s":"13c","g":15,"i":20,"x":-0.5,"y":-30},
      {"s":"13c","g":15,"i":21,"x":0,"y":-27.5},{"s":"13c","g":15,"i":22,"x":0.5,"y":-29.5},{"s":"13c","g":15,"i":23,"x":1,"y":-28},{"s":"13c","g":15,"i":24,"x":1.5,"y":-30},{"s":"13c","g":15,"i":25,"x":2,"y":-27.5},{"s":"13c","g":15,"i":26,"x":2.5,"y":-29},{"s":"13c","g":15,"i":27,"x":3,"y":-27.5},{"s":"13c","g":15,"i":28,"x":3.5,"y":-30},{"s":"13c","g":15,"i":29,"x":4,"y":-28},{"s":"13c","g":15,"i":30,"x":4.5,"y":-29.5},{"s":"13c","g":15,"i":31,"x":5,"y":-28},
      {"s":"13c","g":16,"i":1,"x":-9,"y":-32.5},{"s":"13c","g":16,"i":2,"x":-7,"y":-33},{"s":"13c","g":16,"i":3,"x":-5,"y":-32},{"s":"13c","g":16,"i":4,"x":-3,"y":-33},{"s":"13c","g":16,"i":5,"x":-1,"y":-32},{"s":"13c","g":16,"i":6,"x":1,"y":-33},{"s":"13c","g":16,"i":7,"x":3,"y":-32},{"s":"13c","g":16,"i":8,"x":4.5,"y":-31.5},

      {"s":"9c","g":21,"i":1,"x":0,"y":0},{"s":"9c","g":21,"i":2,"x":0.2,"y":8},{"s":"9c","g":21,"i":3,"x":0.35,"y":14},{"s":"9c","g":21,"i":4,"x":0.5,"y":15},{"s":"9c","g":21,"i":5,"x":0.3,"y":6},{"s":"9c","g":21,"i":6,"x":0,"y":-4},{"s":"9c","g":21,"i":7,"x":-0.3,"y":-12},{"s":"9c","g":21,"i":8,"x":-0.5,"y":-15},{"s":"9c","g":21,"i":9,"x":-0.3,"y":-8},{"s":"9c","g":21,"i":10,"x":0.1,"y":4},
      {"s":"9c","g":21,"i":11,"x":0.45,"y":13},{"s":"9c","g":21,"i":12,"x":0.8,"y":15},{"s":"9c","g":21,"i":13,"x":1.1,"y":15.5},{"s":"9c","g":21,"i":14,"x":0.8,"y":7},{"s":"9c","g":21,"i":15,"x":0.3,"y":-4},{"s":"9c","g":21,"i":16,"x":-0.2,"y":-12},{"s":"9c","g":21,"i":17,"x":-0.6,"y":-15},{"s":"9c","g":21,"i":18,"x":-1,"y":-15.5},{"s":"9c","g":21,"i":19,"x":-0.8,"y":-9},{"s":"9c","g":21,"i":20,"x":-0.3,"y":2},
      {"s":"9c","g":21,"i":21,"x":0.2,"y":12},{"s":"9c","g":21,"i":22,"x":0.5,"y":15},{"s":"9c","g":21,"i":23,"x":0.55,"y":22},{"s":"9c","g":21,"i":24,"x":0.6,"y":30},{"s":"9c","g":21,"i":25,"x":0.67,"y":30.8},{"s":"9c","g":21,"i":26,"x":0.8,"y":38},{"s":"9c","g":21,"i":27,"x":0.92,"y":42},{"s":"9c","g":21,"i":28,"x":1.1,"y":44},{"s":"9c","g":21,"i":29,"x":1.25,"y":45},{"s":"9c","g":21,"i":30,"x":1.4,"y":47},
      {"s":"9c","g":21,"i":31,"x":1.5,"y":48.5},{"s":"9c","g":21,"i":32,"x":1.6,"y":47.5},{"s":"9c","g":21,"i":33,"x":1.75,"y":49.7},{"s":"9c","g":21,"i":34,"x":1.85,"y":48.5},{"s":"9c","g":21,"i":35,"x":1.95,"y":51.4},{"s":"9c","g":21,"i":36,"x":2.1,"y":48.5},{"s":"9c","g":21,"i":37,"x":2.25,"y":52},{"s":"9c","g":21,"i":38,"x":2.35,"y":51.5},{"s":"9c","g":21,"i":39,"x":2.45,"y":52.5},{"s":"9c","g":21,"i":40,"x":2.6,"y":50.5},
      {"s":"9c","g":21,"i":41,"x":2.65,"y":40},{"s":"9c","g":21,"i":42,"x":2.65,"y":25},{"s":"9c","g":21,"i":43,"x":2.65,"y":14},{"s":"9c","g":21,"i":44,"x":2.4,"y":6},{"s":"9c","g":21,"i":45,"x":1.9,"y":-3},{"s":"9c","g":21,"i":46,"x":1.3,"y":-11},{"s":"9c","g":21,"i":47,"x":0.9,"y":-15},{"s":"9c","g":21,"i":48,"x":0,"y":-15.5},{"s":"9c","g":21,"i":49,"x":-1,"y":-15},{"s":"9c","g":21,"i":50,"x":-2,"y":-16},
      {"s":"9c","g":21,"i":51,"x":-2,"y":-18},{"s":"9c","g":21,"i":52,"x":-2.02,"y":-35},{"s":"9c","g":21,"i":53,"x":-2,"y":-50},{"s":"9c","g":21,"i":54,"x":-1.9,"y":-51.5},{"s":"9c","g":21,"i":55,"x":-1.78,"y":-52},{"s":"9c","g":21,"i":56,"x":-1.6,"y":-52},{"s":"9c","g":21,"i":57,"x":-1.45,"y":-52},{"s":"9c","g":21,"i":58,"x":-1.3,"y":-51.5},{"s":"9c","g":21,"i":59,"x":-1.2,"y":-51},{"s":"9c","g":21,"i":60,"x":-1.1,"y":-49},
      {"s":"9c","g":21,"i":61,"x":-1,"y":-46},{"s":"9c","g":21,"i":62,"x":-0.9,"y":-42},{"s":"9c","g":21,"i":63,"x":-0.77,"y":-36.7},{"s":"9c","g":21,"i":64,"x":-0.7,"y":-30},{"s":"9c","g":21,"i":65,"x":-0.67,"y":-22.7},{"s":"9c","g":21,"i":66,"x":-0.5,"y":-12},{"s":"9c","g":21,"i":67,"x":-0.2,"y":0},{"s":"9c","g":21,"i":68,"x":0.2,"y":10},{"s":"9c","g":21,"i":69,"x":0.5,"y":14},{"s":"9c","g":21,"i":70,"x":1.5,"y":15},
      {"s":"9c","g":21,"i":71,"x":2.7,"y":14.5},{"s":"9c","g":21,"i":72,"x":2.5,"y":8},{"s":"9c","g":21,"i":73,"x":1.8,"y":-2},{"s":"9c","g":21,"i":74,"x":1,"y":-12},{"s":"9c","g":21,"i":75,"x":0.6,"y":-15},{"s":"9c","g":21,"i":76,"x":-0.5,"y":-15.5},{"s":"9c","g":21,"i":77,"x":-1.5,"y":-15},{"s":"9c","g":21,"i":78,"x":-1.55,"y":-30},{"s":"9c","g":21,"i":79,"x":-1.55,"y":-51},{"s":"9c","g":21,"i":80,"x":-1.4,"y":-50},
      {"s":"9c","g":21,"i":81,"x":-1.2,"y":-40},{"s":"9c","g":21,"i":82,"x":-1,"y":-28},{"s":"9c","g":21,"i":83,"x":-0.8,"y":-18},{"s":"9c","g":21,"i":84,"x":-0.4,"y":-6},{"s":"9c","g":21,"i":85,"x":0.2,"y":8},{"s":"9c","g":21,"i":86,"x":0.6,"y":14},{"s":"9c","g":21,"i":87,"x":2,"y":14.5},{"s":"9c","g":21,"i":88,"x":3,"y":14},{"s":"9c","g":21,"i":89,"x":3.2,"y":17},{"s":"9c","g":21,"i":90,"x":3.4,"y":20.4},
      {"s":"9c","g":21,"i":91,"x":3.55,"y":23},{"s":"9c","g":21,"i":92,"x":3.7,"y":26},{"s":"9c","g":21,"i":93,"x":3.9,"y":27.4},{"s":"9c","g":21,"i":94,"x":4.05,"y":26},{"s":"9c","g":21,"i":95,"x":4.2,"y":24},{"s":"9c","g":21,"i":96,"x":4.4,"y":21.5},{"s":"9c","g":21,"i":97,"x":4.6,"y":19},{"s":"9c","g":21,"i":98,"x":4.9,"y":16.7},{"s":"9c","g":21,"i":99,"x":5.3,"y":15},{"s":"9c","g":21,"i":100,"x":5.7,"y":13.9},
      {"s":"9c","g":21,"i":101,"x":5.5,"y":8},{"s":"9c","g":21,"i":102,"x":4.8,"y":1},{"s":"9c","g":21,"i":103,"x":4,"y":-4},{"s":"9c","g":21,"i":104,"x":3,"y":-8},{"s":"9c","g":21,"i":105,"x":2,"y":-11},{"s":"9c","g":21,"i":106,"x":1,"y":-14},{"s":"9c","g":21,"i":107,"x":0.5,"y":-15},{"s":"9c","g":21,"i":108,"x":-1,"y":-15.5},{"s":"9c","g":21,"i":109,"x":-3,"y":-15},{"s":"9c","g":21,"i":110,"x":-3.05,"y":-24.6},
      {"s":"9c","g":21,"i":111,"x":-3.2,"y":-25.5},{"s":"9c","g":21,"i":112,"x":-3.4,"y":-30},{"s":"9c","g":21,"i":113,"x":-3.55,"y":-34},{"s":"9c","g":21,"i":114,"x":-3.7,"y":-33},{"s":"9c","g":21,"i":115,"x":-4.05,"y":-26},{"s":"9c","g":21,"i":116,"x":-4.2,"y":-18},{"s":"9c","g":21,"i":117,"x":-4.4,"y":-23.5},{"s":"9c","g":21,"i":118,"x":-4.55,"y":-22.4},{"s":"9c","g":21,"i":119,"x":-4.8,"y":-26},{"s":"9c","g":21,"i":120,"x":-4.9,"y":-19.8},
      {"s":"9c","g":21,"i":121,"x":-5,"y":-16},{"s":"9c","g":21,"i":122,"x":-4.6,"y":-10},{"s":"9c","g":21,"i":123,"x":-3.8,"y":-4},{"s":"9c","g":21,"i":124,"x":-2.8,"y":2},{"s":"9c","g":21,"i":125,"x":-1.5,"y":7},{"s":"9c","g":21,"i":126,"x":0,"y":11},{"s":"9c","g":21,"i":127,"x":1.5,"y":13.5},{"s":"9c","g":21,"i":128,"x":3,"y":14.5},{"s":"9c","g":21,"i":129,"x":4.2,"y":20},{"s":"9c","g":21,"i":130,"x":5.05,"y":17.6},
      {"s":"9c","g":21,"i":131,"x":5.8,"y":15},{"s":"9c","g":21,"i":132,"x":5.6,"y":10},{"s":"9c","g":21,"i":133,"x":4.7,"y":4},{"s":"9c","g":21,"i":134,"x":3.7,"y":-1},{"s":"9c","g":21,"i":135,"x":2.5,"y":-6},{"s":"9c","g":21,"i":136,"x":1.2,"y":-11},{"s":"9c","g":21,"i":137,"x":0.3,"y":-14},{"s":"9c","g":21,"i":138,"x":-0.5,"y":-15},{"s":"9c","g":21,"i":139,"x":-3,"y":-15.5},{"s":"9c","g":21,"i":140,"x":-5,"y":-15},
      {"s":"9c","g":21,"i":141,"x":-5.9,"y":-15},{"s":"9c","g":21,"i":142,"x":-4.55,"y":-9.4},{"s":"9c","g":21,"i":143,"x":-3.4,"y":-4.9},{"s":"9c","g":21,"i":144,"x":-2.2,"y":0},{"s":"9c","g":21,"i":145,"x":-0.5,"y":3.5},{"s":"9c","g":21,"i":146,"x":0.35,"y":6.3},{"s":"9c","g":21,"i":147,"x":2,"y":9},{"s":"9c","g":21,"i":148,"x":3.7,"y":11.5},{"s":"9c","g":21,"i":149,"x":5,"y":13.5},{"s":"9c","g":21,"i":150,"x":6,"y":14.5},
      {"s":"9c","g":21,"i":151,"x":5.2,"y":9},{"s":"9c","g":21,"i":152,"x":3.7,"y":2.7},{"s":"9c","g":21,"i":153,"x":1.2,"y":-6.6},{"s":"9c","g":21,"i":154,"x":-0.1,"y":-12.2},{"s":"9c","g":21,"i":155,"x":-1.35,"y":-13.4},{"s":"9c","g":21,"i":156,"x":-3.9,"y":-16},{"s":"9c","g":21,"i":157,"x":-6,"y":-15},{"s":"9c","g":21,"i":158,"x":-6.1,"y":-14.5},{"s":"9c","g":21,"i":159,"x":-5,"y":-10},{"s":"9c","g":21,"i":160,"x":-3.9,"y":-6},
      {"s":"9c","g":21,"i":161,"x":-2.2,"y":-1},{"s":"9c","g":21,"i":162,"x":-0.5,"y":2.5},{"s":"9c","g":21,"i":163,"x":0.75,"y":5.5},{"s":"9c","g":21,"i":164,"x":2.95,"y":9},{"s":"9c","g":21,"i":165,"x":4.55,"y":11.5},{"s":"9c","g":21,"i":166,"x":5.9,"y":13},{"s":"9c","g":21,"i":167,"x":6.3,"y":14},{"s":"9c","g":21,"i":168,"x":5.5,"y":9.5},{"s":"9c","g":21,"i":169,"x":3.7,"y":6},{"s":"9c","g":21,"i":170,"x":1.2,"y":-1.5},
      {"s":"9c","g":21,"i":171,"x":-0.5,"y":-8},{"s":"9c","g":21,"i":172,"x":-2.2,"y":-12},{"s":"9c","g":21,"i":173,"x":-3.5,"y":-15},{"s":"9c","g":21,"i":174,"x":-6,"y":-15.5},{"s":"9c","g":21,"i":175,"x":-9,"y":-14.2},{"s":"9c","g":21,"i":176,"x":-7.5,"y":-6.6},{"s":"9c","g":21,"i":177,"x":-5.4,"y":-1},{"s":"9c","g":21,"i":178,"x":-3.9,"y":2.7},{"s":"9c","g":21,"i":179,"x":-3.4,"y":4.1},{"s":"9c","g":21,"i":180,"x":-2.2,"y":8.3},
      {"s":"9c","g":21,"i":181,"x":-0.5,"y":13},{"s":"9c","g":21,"i":182,"x":0.35,"y":14.8},{"s":"9c","g":21,"i":183,"x":3,"y":14.5},{"s":"9c","g":21,"i":184,"x":6,"y":14},{"s":"9c","g":21,"i":185,"x":9.3,"y":13.8},{"s":"9c","g":21,"i":186,"x":9.3,"y":13.4},{"s":"9c","g":21,"i":187,"x":6.75,"y":12},{"s":"9c","g":21,"i":188,"x":5.05,"y":7.5},{"s":"9c","g":21,"i":189,"x":1.7,"y":0.7},{"s":"9c","g":21,"i":190,"x":-0.35,"y":-6.6},
      {"s":"9c","g":21,"i":191,"x":-2.5,"y":-12},{"s":"9c","g":21,"i":192,"x":-3.5,"y":-14.5},{"s":"9c","g":21,"i":193,"x":-6,"y":-15},{"s":"9c","g":21,"i":194,"x":-9,"y":-15},{"s":"9c","g":21,"i":195,"x":-9.2,"y":-14.5},{"s":"9c","g":21,"i":196,"x":-8,"y":-9.5},{"s":"9c","g":21,"i":197,"x":-6.5,"y":-4},{"s":"9c","g":21,"i":198,"x":-4.5,"y":1.5},{"s":"9c","g":21,"i":199,"x":-2.5,"y":7.5},{"s":"9c","g":21,"i":200,"x":-1,"y":12},
      {"s":"9c","g":21,"i":201,"x":0,"y":14.5},{"s":"9c","g":21,"i":202,"x":3,"y":15},{"s":"9c","g":21,"i":203,"x":6,"y":14.5},{"s":"9c","g":21,"i":204,"x":9,"y":14.5},{"s":"9c","g":21,"i":205,"x":6.9,"y":10},{"s":"9c","g":21,"i":206,"x":3.7,"y":5.5},{"s":"9c","g":21,"i":207,"x":1.2,"y":-3.8},{"s":"9c","g":21,"i":208,"x":-0.1,"y":-6.6},{"s":"9c","g":21,"i":209,"x":-2.2,"y":-10.5},{"s":"9c","g":21,"i":210,"x":-3.9,"y":-13.4},
      {"s":"9c","g":21,"i":211,"x":-5,"y":-15},{"s":"9c","g":21,"i":212,"x":-9,"y":-15},{"s":"9c","g":21,"i":213,"x":-11,"y":-14.5},{"s":"9c","g":21,"i":214,"x":-10.5,"y":-9},{"s":"9c","g":21,"i":215,"x":-9,"y":-4},{"s":"9c","g":21,"i":216,"x":-7,"y":2.5},{"s":"9c","g":21,"i":217,"x":-5,"y":9},{"s":"9c","g":21,"i":218,"x":-3.5,"y":12.5},{"s":"9c","g":21,"i":219,"x":-2,"y":14.5},{"s":"9c","g":21,"i":220,"x":1,"y":15},
      {"s":"9c","g":21,"i":221,"x":5,"y":14.5},{"s":"9c","g":21,"i":222,"x":9,"y":14},{"s":"9c","g":21,"i":223,"x":11,"y":14.5},{"s":"9c","g":21,"i":224,"x":11,"y":13.4},{"s":"9c","g":21,"i":225,"x":10.1,"y":12},{"s":"9c","g":21,"i":226,"x":8.9,"y":8.3},{"s":"9c","g":21,"i":227,"x":6.9,"y":3.5},{"s":"9c","g":21,"i":228,"x":3.7,"y":-4.9},{"s":"9c","g":21,"i":229,"x":1.7,"y":-10.5},{"s":"9c","g":21,"i":230,"x":0.5,"y":-13.5},
      {"s":"9c","g":21,"i":231,"x":-0.5,"y":-15},{"s":"9c","g":21,"i":232,"x":-6,"y":-14.5},{"s":"9c","g":21,"i":233,"x":-12,"y":-14},{"s":"9c","g":21,"i":234,"x":-12.1,"y":-13},{"s":"9c","g":21,"i":235,"x":-11.9,"y":-8.6},{"s":"9c","g":21,"i":236,"x":-10.8,"y":-5},{"s":"9c","g":21,"i":237,"x":-9.6,"y":-2.1},{"s":"9c","g":21,"i":238,"x":-7.25,"y":4.6},{"s":"9c","g":21,"i":239,"x":-4.7,"y":11.1},{"s":"9c","g":21,"i":240,"x":-3.4,"y":13.4},
      {"s":"9c","g":21,"i":241,"x":-2,"y":14.5},{"s":"9c","g":21,"i":242,"x":2,"y":15},{"s":"9c","g":21,"i":243,"x":6,"y":14},{"s":"9c","g":21,"i":244,"x":10,"y":15},{"s":"9c","g":21,"i":245,"x":11.5,"y":16},{"s":"9c","g":21,"i":246,"x":12,"y":17.6},{"s":"9c","g":21,"i":247,"x":11.9,"y":12},{"s":"9c","g":21,"i":248,"x":11.5,"y":8.3},{"s":"9c","g":21,"i":249,"x":11,"y":5.5},{"s":"9c","g":21,"i":250,"x":9.3,"y":1.3},
      {"s":"9c","g":21,"i":251,"x":6.9,"y":-3.8},{"s":"9c","g":21,"i":252,"x":4.7,"y":-9.4},{"s":"9c","g":21,"i":253,"x":2.5,"y":-13.7},{"s":"9c","g":21,"i":254,"x":1.7,"y":-14.2},{"s":"9c","g":21,"i":255,"x":-2,"y":-15},{"s":"9c","g":21,"i":256,"x":-6,"y":-14.5},{"s":"9c","g":21,"i":257,"x":-10,"y":-15},{"s":"9c","g":21,"i":258,"x":-12.4,"y":-13.5},{"s":"9c","g":21,"i":259,"x":-12.3,"y":-11},{"s":"9c","g":21,"i":260,"x":-11.5,"y":-7.5},
      {"s":"9c","g":21,"i":261,"x":-10,"y":-3},{"s":"9c","g":21,"i":262,"x":-8,"y":2.5},{"s":"9c","g":21,"i":263,"x":-6,"y":8},{"s":"9c","g":21,"i":264,"x":-4,"y":12.5},{"s":"9c","g":21,"i":265,"x":-2.5,"y":14.5},{"s":"9c","g":21,"i":266,"x":1,"y":14},{"s":"9c","g":21,"i":267,"x":5,"y":15},{"s":"9c","g":21,"i":268,"x":9,"y":14.5},{"s":"9c","g":21,"i":269,"x":11,"y":15.5},{"s":"9c","g":21,"i":270,"x":12.1,"y":16.5},
      {"s":"9c","g":21,"i":271,"x":12.1,"y":14},{"s":"9c","g":21,"i":272,"x":11.8,"y":10},{"s":"9c","g":21,"i":273,"x":11.2,"y":7},{"s":"9c","g":21,"i":274,"x":9.5,"y":3},{"s":"9c","g":21,"i":275,"x":7,"y":-2.5},{"s":"9c","g":21,"i":276,"x":4.5,"y":-8.5},{"s":"9c","g":21,"i":277,"x":2.5,"y":-13},{"s":"9c","g":21,"i":278,"x":1.5,"y":-14.5},{"s":"9c","g":21,"i":279,"x":-3,"y":-14.5},{"s":"9c","g":21,"i":280,"x":-8,"y":-15},
      {"s":"9c","g":21,"i":281,"x":-12,"y":-14.5},

      {"s":"9c","g":22,"i":1,"x":0.45,"y":-25},{"s":"9c","g":22,"i":2,"x":0.5,"y":-10},{"s":"9c","g":22,"i":3,"x":0.55,"y":10},{"s":"9c","g":22,"i":4,"x":0.6,"y":25},{"s":"9c","g":22,"i":5,"x":0.67,"y":32},
      {"s":"9c","g":23,"i":1,"x":0.9,"y":33},{"s":"9c","g":23,"i":2,"x":0.85,"y":12},{"s":"9c","g":23,"i":3,"x":0.8,"y":-8},{"s":"9c","g":23,"i":4,"x":0.7,"y":-20},
      {"s":"9c","g":24,"i":1,"x":1.45,"y":46},{"s":"9c","g":24,"i":2,"x":1.45,"y":25},{"s":"9c","g":24,"i":3,"x":1.43,"y":5},{"s":"9c","g":24,"i":4,"x":1.3,"y":-2},
      {"s":"9c","g":25,"i":1,"x":-0.6,"y":-24},{"s":"9c","g":25,"i":2,"x":-0.55,"y":-12},{"s":"9c","g":25,"i":3,"x":-0.4,"y":0},{"s":"9c","g":25,"i":4,"x":-0.3,"y":8},
      {"s":"9c","g":26,"i":1,"x":-2,"y":15.5},{"s":"9c","g":26,"i":2,"x":-1,"y":13},{"s":"9c","g":26,"i":3,"x":0,"y":15},{"s":"9c","g":26,"i":4,"x":1,"y":13.5},{"s":"9c","g":26,"i":5,"x":2,"y":15.5},{"s":"9c","g":26,"i":6,"x":3,"y":13},{"s":"9c","g":26,"i":7,"x":4,"y":15},{"s":"9c","g":26,"i":8,"x":5,"y":13.5},{"s":"9c","g":26,"i":9,"x":6,"y":15.5},{"s":"9c","g":26,"i":10,"x":7,"y":13.5},{"s":"9c","g":26,"i":11,"x":8,"y":15},{"s":"9c","g":26,"i":12,"x":9,"y":13},{"s":"9c","g":26,"i":13,"x":10,"y":15},{"s":"9c","g":26,"i":14,"x":11,"y":14},
      {"s":"9c","g":27,"i":1,"x":-12,"y":-15.5},{"s":"9c","g":27,"i":2,"x":-11,"y":-13.5},{"s":"9c","g":27,"i":3,"x":-10,"y":-15.5},{"s":"9c","g":27,"i":4,"x":-9,"y":-13.5},{"s":"9c","g":27,"i":5,"x":-8,"y":-16},{"s":"9c","g":27,"i":6,"x":-7,"y":-14},{"s":"9c","g":27,"i":7,"x":-6,"y":-16},{"s":"9c","g":27,"i":8,"x":-5,"y":-14},{"s":"9c","g":27,"i":9,"x":-4,"y":-16},{"s":"9c","g":27,"i":10,"x":-3,"y":-14},{"s":"9c","g":27,"i":11,"x":-2,"y":-16},{"s":"9c","g":27,"i":12,"x":-1,"y":-14},{"s":"9c","g":27,"i":13,"x":0,"y":-16},{"s":"9c","g":27,"i":14,"x":1,"y":-14.5}
    ],
    "markers": [
      {"s":"9c","x":-12.4,"y":-13.4},{"s":"9c","x":-11.97,"y":-13.4},{"s":"9c","x":-11.72,"y":-14.2},{"s":"9c","x":-9.7,"y":-2.4},{"s":"9c","x":-9.37,"y":-14.2},{"s":"9c","x":-8.76,"y":-11.4},{"s":"9c","x":-8.1,"y":-19},{"s":"9c","x":-7.5,"y":-6.3},{"s":"9c","x":-7.17,"y":4.6},{"s":"9c","x":-4.72,"y":10.3},
      {"s":"9c","x":-6.92,"y":-13.4},{"s":"9c","x":-5.65,"y":-13.4},{"s":"9c","x":-5.32,"y":-17.9},{"s":"9c","x":-5.15,"y":-2.95},{"s":"9c","x":-4.56,"y":-13.4},{"s":"9c","x":-3.88,"y":3.5},{"s":"9c","x":-3.88,"y":-17.9},{"s":"9c","x":-3.38,"y":-3.8},{"s":"9c","x":-2.49,"y":15.3},{"s":"9c","x":-2.3,"y":15.3},
      {"s":"9c","x":-2.11,"y":15.3},{"s":"9c","x":-2.62,"y":6.9},{"s":"9c","x":-2.67,"y":-2.4},{"s":"9c","x":-2.04,"y":-1.5},{"s":"9c","x":-2.04,"y":-4.9},{"s":"9c","x":-1.43,"y":-3},{"s":"9c","x":-0.97,"y":-2.1},{"s":"9c","x":0.24,"y":-13.4},{"s":"9c","x":0.09,"y":15.9},{"s":"9c","x":-0.27,"y":13.1},
      {"s":"9c","x":1.25,"y":11.1},{"s":"9c","x":1.25,"y":1.8},{"s":"9c","x":1.86,"y":2.7},{"s":"9c","x":1.86,"y":10.3},{"s":"9c","x":2.62,"y":-7.7},{"s":"9c","x":2.44,"y":-13.4},{"s":"9c","x":3.53,"y":-4.9},{"s":"9c","x":2.61,"y":44.3},{"s":"9c","x":1.43,"y":45.4},{"s":"9c","x":4.64,"y":10.3},
      {"s":"9c","x":4.71,"y":7.4},{"s":"9c","x":5.42,"y":10.6},{"s":"9c","x":5.9,"y":15.9},{"s":"9c","x":6.66,"y":13.1},{"s":"9c","x":6.99,"y":11.1},{"s":"9c","x":7.06,"y":3.5},{"s":"9c","x":6.91,"y":-3.8},{"s":"9c","x":4.89,"y":-1},{"s":"9c","x":2.52,"y":-8},{"s":"9c","x":4.71,"y":-9.1},
      {"s":"9c","x":8.18,"y":7.4},{"s":"9c","x":8.69,"y":15.9},{"s":"9c","x":9.09,"y":12},{"s":"9c","x":9.09,"y":1.3},{"s":"9c","x":11.04,"y":15.9},{"s":"9c","x":11.04,"y":6.9},{"s":"9c","x":11.8,"y":12.5},{"s":"9c","x":-6.9,"y":-12.3},{"s":"9c","x":0.16,"y":-12.3},
      {"s":"13c","x":0.75,"y":58.1},{"s":"13c","x":2.01,"y":75.8},{"s":"13c","x":-1.23,"y":33.6},{"s":"13c","x":4.54,"y":36.4},{"s":"13c","x":5.48,"y":37},{"s":"13c","x":6.24,"y":32.8},{"s":"13c","x":7.25,"y":49.7},{"s":"13c","x":8.58,"y":31.7},{"s":"13c","x":8.76,"y":19.6},{"s":"13c","x":10.58,"y":39.3},
      {"s":"13c","x":9.52,"y":30.8},{"s":"13c","x":3.2,"y":27.2},{"s":"13c","x":3.02,"y":-3.8},{"s":"13c","x":5.22,"y":-10.6},{"s":"13c","x":6.56,"y":-10.6},{"s":"13c","x":9.6,"y":1.8},{"s":"13c","x":6.66,"y":-19.8},{"s":"13c","x":5.65,"y":-26.3},{"s":"13c","x":4.54,"y":-30.3},{"s":"13c","x":3.7,"y":-17.9},
      {"s":"13c","x":2.01,"y":-13.4},{"s":"13c","x":10.71,"y":8.3},{"s":"13c","x":-6.08,"y":26},{"s":"13c","x":-5.07,"y":29.4},{"s":"13c","x":-4.08,"y":31.7},{"s":"13c","x":-8.76,"y":7},{"s":"13c","x":-11.01,"y":-9.4},{"s":"13c","x":-4.72,"y":15.9},{"s":"13c","x":-5.98,"y":2.7},{"s":"13c","x":-4.21,"y":-3},
      {"s":"13c","x":-9.77,"y":-25.5},{"s":"13c","x":-8.76,"y":-24.6},{"s":"13c","x":-10.96,"y":-33.1},{"s":"13c","x":-6.59,"y":-46},{"s":"13c","x":-4.46,"y":-74.2},{"s":"13c","x":-3.81,"y":-35.9},{"s":"13c","x":1.18,"y":-37.6},{"s":"13c","x":-0.34,"y":-35.9},{"s":"13c","x":-3.2,"y":20.4},{"s":"13c","x":-0.34,"y":25.2},
      {"s":"13c","x":2.26,"y":-0.1},{"s":"13c","x":2.95,"y":-3},{"s":"13c","x":1.68,"y":-25.5},{"s":"13c","x":-1.78,"y":-23.5},{"s":"13c","x":-4.34,"y":-33.9}
    ]
  },
  "resolve": {"axis": {"x": "independent", "y": "independent"}},
  "layer": [
    {
      "data": {"name": "curves"},
      "mark": {"type": "line", "strokeWidth": 3, "clip": true, "strokeJoin": "round"},
      "encoding": {
        "x": {
          "field": "x", "type": "quantitative",
          "scale": {"domain": [-13, 13], "nice": false, "zero": false},
          "axis": {
            "orient": "bottom", "values": [-10, -5, 0, 5, 10], "domain": false,
            "tickSize": -21, "tickWidth": 2, "tickColor": "#000000",
            "grid": true, "gridDash": [1.5, 5], "gridColor": "#000000", "gridWidth": 1.2, "gridOpacity": 0.9,
            "labelFontSize": 29, "labelPadding": 36, "labelExpr": "'' + datum.value",
            "title": "Horizontal Displacement (inches)", "titleFontSize": 29, "titlePadding": 8
          }
        },
        "y": {
          "field": "y", "type": "quantitative",
          "scale": {"domain": [-95, 95], "nice": false, "zero": false},
          "axis": {
            "orient": "left", "values": [-80, -60, -40, -20, 0, 20, 40, 60, 80], "domain": false,
            "tickSize": -21, "tickWidth": 2, "tickColor": "#000000",
            "grid": true, "gridDash": [1.5, 5], "gridColor": "#000000", "gridWidth": 1.2, "gridOpacity": 0.9,
            "labelFontSize": 29, "labelPadding": 30, "labelExpr": "'' + datum.value",
            "title": "Horizontal Force (kips)", "titleFontSize": 29, "titlePadding": 8
          }
        },
        "color": {
          "field": "s", "type": "nominal",
          "scale": {"domain": ["9c", "13c"], "range": ["#008000", "#ff0000"]},
          "legend": {
            "title": null, "orient": "none", "legendX": 812, "legendY": 561,
            "padding": 14, "strokeColor": "#333333", "fillColor": "#ffffff",
            "labelFontSize": 29, "labelFont": "Liberation Sans", "labelColor": "#000000",
            "labelOffset": 69, "labelLimit": 0, "symbolSize": 400, "symbolStrokeWidth": 2, "rowPadding": 9,
            "encode": {
              "symbols": {"update": {
                "shape": {"signal": "datum.value === '9c' ? 'M-1,0H7.6M2.3,-1H4.3V1H2.3Z' : 'M-1,0H7.6M3.3,-1.04L4.5,1.04H2.1Z'"},
                "fill": {"value": "transparent"},
                "strokeWidth": {"value": 2},
                "opacity": {"value": 1}
              }},
              "legend": {"update": {"strokeWidth": {"value": 1.5}}}
            }
          }
        },
        "detail": {"field": "g", "type": "nominal"},
        "order": {"field": "i", "type": "quantitative"}
      }
    },
    {
      "data": {"name": "markers"},
      "transform": [{"filter": "datum.s === '9c'"}],
      "mark": {"type": "point", "shape": "M-1,-1H1V1H-1Z", "filled": false, "strokeWidth": 2, "opacity": 1, "size": 400, "clip": true},
      "encoding": {
        "x": {
          "field": "x", "type": "quantitative",
          "axis": {"orient": "top", "values": [-10, -5, 0, 5, 10], "domain": false, "labels": false, "grid": false, "tickSize": -21, "tickWidth": 2, "tickColor": "#000000", "title": null}
        },
        "y": {
          "field": "y", "type": "quantitative",
          "axis": {"orient": "right", "values": [-80, -60, -40, -20, 0, 20, 40, 60, 80], "domain": false, "labels": false, "grid": false, "tickSize": -21, "tickWidth": 2, "tickColor": "#000000", "title": null}
        },
        "color": {"field": "s", "type": "nominal"}
      }
    },
    {
      "data": {"name": "markers"},
      "transform": [{"filter": "datum.s === '13c'"}],
      "mark": {"type": "point", "shape": "M0,-1.04L1.2,1.04L-1.2,1.04Z", "filled": false, "strokeWidth": 2, "opacity": 1, "size": 400, "clip": true},
      "encoding": {
        "x": {"field": "x", "type": "quantitative", "axis": null},
        "y": {"field": "y", "type": "quantitative", "axis": null},
        "color": {"field": "s", "type": "nominal"},
        "strokeDash": {
          "datum": "figure", "type": "nominal",
          "scale": {"range": [[1, 0]]},
          "legend": {
            "title": null, "orient": "none", "legendX": -112, "legendY": -6,
            "padding": 620, "strokeColor": "#000000", "labelExpr": "''",
            "symbolOpacity": 0, "symbolSize": 1,
            "encode": {"legend": {"update": {"strokeWidth": {"value": 2}}}}
          }
        }
      }
    }
  ]
}
